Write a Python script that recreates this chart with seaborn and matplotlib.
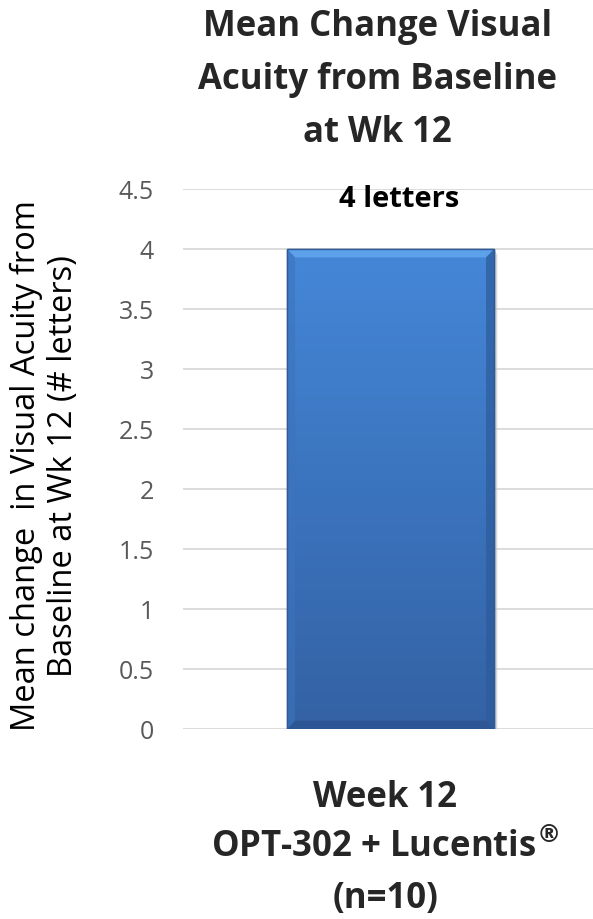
import matplotlib
matplotlib.use("Agg")
import matplotlib.pyplot as plt
import seaborn as sns
import numpy as np
import pandas as pd
from matplotlib.colors import LinearSegmentedColormap
from matplotlib.patches import Polygon

categories = ["Week 12 OPT-302 + Lucentis® (n=10)"]
values = [4.0]
value_labels = ["4 letters"]
yticks = [0, 0.5, 1, 1.5, 2, 2.5, 3, 3.5, 4, 4.5]
ytick_labels = ["0", "0.5", "1", "1.5", "2", "2.5", "3", "3.5", "4", "4.5"]
xlabel_text = "Week 12\nOPT-302 + Lucentis$^{\\mathbf{®}}$\n(n=10)"
title_text = "Mean Change Visual\nAcuity from Baseline\nat Wk 12"
ylabel_text = "Mean change  in Visual Acuity from\nBaseline at Wk 12 (# letters)"

sns.set_theme(style="white")
plt.rcParams['font.family'] = ['Open Sans', 'DejaVu Sans']

df = pd.DataFrame({"cat": categories, "val": values})

fig = plt.figure(figsize=(5.93, 9.19), dpi=100)
ax = fig.add_axes([0.309, 0.2067, 0.691, 0.5876])

sns.barplot(data=df, x="cat", y="val", ax=ax, color="#3f7dcb", width=0.505,
            saturation=1, edgecolor="#2f5a96", linewidth=1.0, zorder=3)

XL = (-0.506, 0.494)
ax.set_ylim(0, 4.5)
ax.set_xlim(*XL)
ax.set_yticks(yticks)
ax.set_yticklabels(ytick_labels, fontsize=18, color="#595959")
ax.yaxis.grid(True, color="#d9d9d9", linewidth=1.3, zorder=0)
ax.set_axisbelow(True)
for s in ax.spines.values():
    s.set_visible(False)
ax.tick_params(axis="y", length=0, pad=21)
ax.tick_params(axis="x", length=0)
ax.set_xticklabels([])
ax.set_xlabel("")

# gradient + bevel on bar
cmap = LinearSegmentedColormap.from_list("g", ["#3462a4", "#3b74be", "#4587d8"])
bx = 0.0195  # bevel width (x data)
by = 0.07    # bevel height (y data)
for p in ax.patches:
    x0, y0 = p.get_x(), p.get_y()
    w, h = p.get_width(), p.get_height()
    x1, y1 = x0 + w, y0 + h
    grad = np.linspace(0, 1, 256).reshape(-1, 1)
    im = ax.imshow(grad, extent=[x0, x1, y0, y1], origin="lower",
                   cmap=cmap, aspect="auto", zorder=3.5)
    im.set_clip_path(p)
    # shadow on right
    ax.add_patch(Polygon([[x1, y0], [x1 + 0.008, y0 - 0.02], [x1 + 0.008, y1 - 0.05], [x1, y1]],
                         closed=True, facecolor="#bfbfbf", edgecolor="none", alpha=0.6, zorder=2.9))
    # top bevel
    ax.add_patch(Polygon([[x0, y1], [x1, y1], [x1 - bx, y1 - by], [x0 + bx, y1 - by]],
                         closed=True, facecolor="#62a6ee", edgecolor="none", alpha=0.85, zorder=3.6))
    # bottom bevel
    ax.add_patch(Polygon([[x0, y0], [x1, y0], [x1 - bx, y0 + by], [x0 + bx, y0 + by]],
                         closed=True, facecolor="#2b5590", edgecolor="none", alpha=0.8, zorder=3.6))
    # left bevel
    ax.add_patch(Polygon([[x0, y0], [x0 + bx, y0 + by], [x0 + bx, y1 - by], [x0, y1]],
                         closed=True, facecolor="#3c74bd", edgecolor="none", alpha=0.6, zorder=3.6))
    # right bevel
    ax.add_patch(Polygon([[x1, y0], [x1 - bx, y0 + by], [x1 - bx, y1 - by], [x1, y1]],
                         closed=True, facecolor="#2d5b9a", edgecolor="none", alpha=0.7, zorder=3.6))
    ax.add_patch(Polygon([[x0, y0], [x1, y0], [x1, y1], [x0, y1]], closed=True,
                         facecolor="none", edgecolor="#2f5a96", linewidth=1.0, zorder=3.7))
ax.set_xlim(*XL)
ax.set_ylim(0, 4.5)

ax.set_ylabel(ylabel_text, fontsize=23.5, color="#000000", linespacing=1.17)
lab = ax.yaxis.label
lab.set_rotation_mode("default")
lab.set_va("center")
lab.set_ha("center")
ax.yaxis.set_label_coords(-0.338, 0.487)

for p, t in zip(ax.patches, value_labels):
    ax.text(p.get_x() + p.get_width() / 2 + 0.022, 4.41, t, ha="center", va="center",
            fontsize=21, fontweight="bold", color="#000000")

fig.text(0.636, 0.913, title_text,
         ha="center", va="center", fontsize=25, fontweight="bold", linespacing=1.62)
fig.text(0.650, 0.077, xlabel_text,
         ha="center", va="center", fontsize=25, fontweight="bold", linespacing=1.54)

fig.savefig("out.png", dpi=100)
